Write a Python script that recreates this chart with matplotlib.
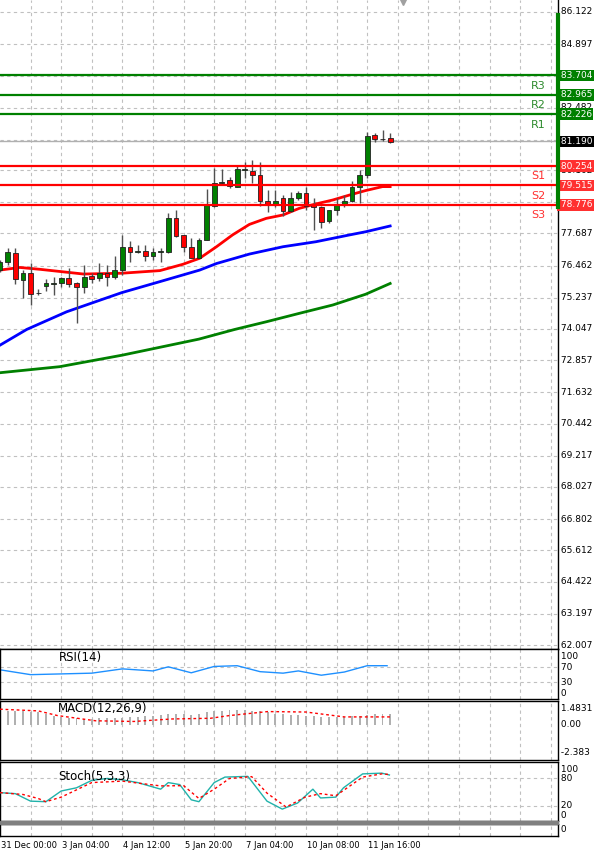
import matplotlib.pyplot as plt
import numpy as np

# candles (index = bar number, 4 bars per grid column)
opens  = [76.29, 76.61, 76.95, 75.91, 76.19, 75.40, 75.69, 75.77, 75.78, 75.97,
          75.81, 75.66, 76.08, 75.97, 76.19, 76.04, 76.29, 77.18, 76.97, 77.03,
          76.84, 76.98, 76.99, 78.29, 77.61, 77.18, 76.76, 77.44, 78.73, 79.59,
          79.72, 79.47, 80.12, 80.08, 79.90, 78.93, 78.77, 79.05, 78.54, 79.05,
          79.24, 78.77, 78.68, 78.16, 78.58, 78.77, 78.93, 79.44, 79.91, 81.44,
          81.27, 81.31]
highs  = [76.67, 77.12, 77.12, 76.29, 76.55, 75.56, 75.94, 76.04, 76.04, 76.36,
          75.84, 76.48, 76.17, 76.55, 76.48, 76.83, 77.63, 77.41, 77.24, 77.24,
          77.12, 77.12, 78.45, 78.58, 77.61, 77.50, 77.50, 79.37, 80.19, 80.13,
          79.85, 80.29, 80.42, 80.48, 80.39, 79.34, 79.34, 79.15, 79.28, 79.30,
          79.47, 79.02, 78.73, 78.58, 79.02, 79.15, 79.70, 80.10, 81.56, 81.50,
          81.63, 81.50]
lows   = [76.23, 76.48, 75.76, 75.21, 74.96, 75.34, 75.49, 75.34, 75.66, 75.66,
          74.26, 75.43, 75.78, 75.89, 75.68, 75.94, 76.10, 76.61, 76.93, 76.64,
          76.67, 76.61, 76.93, 77.56, 76.99, 76.74, 76.74, 77.44, 78.71, 79.53,
          79.40, 79.47, 79.78, 79.62, 78.73, 78.51, 78.71, 78.35, 78.51, 78.96,
          78.58, 77.82, 77.88, 78.07, 78.39, 78.71, 78.90, 78.83, 79.78, 81.18,
          81.22, 81.14]
closes = [76.61, 76.99, 75.94, 76.19, 75.37, 75.42, 75.81, 75.79, 75.97, 75.76,
          75.66, 76.04, 75.94, 76.19, 76.04, 76.29, 77.18, 76.99, 77.03, 76.84,
          76.97, 77.00, 78.29, 77.59, 77.18, 76.74, 77.44, 78.77, 79.59, 79.66,
          79.49, 80.14, 80.13, 79.90, 78.93, 78.77, 78.92, 78.54, 79.05, 79.24,
          78.73, 78.68, 78.13, 78.58, 78.77, 78.93, 79.44, 79.91, 81.40, 81.27,
          81.28, 81.18]

# moving averages (bar index, price)
ma_red_x = [0, 2.6, 5.2, 10.9, 15.9, 20.9, 23.9, 26.1, 28.3, 30.4, 32.6, 34.8, 37, 39.1, 41.3, 43.5, 45.7, 47.8, 50, 51]
ma_red_y = [76.29, 76.39, 76.32, 76.14, 76.17, 76.27, 76.51, 76.74, 77.18, 77.63, 78.03, 78.26, 78.39, 78.64, 78.81, 78.96, 79.15, 79.32, 79.47, 79.47]
ma_blue_x = [0, 3.5, 8.7, 15.9, 20.9, 26.1, 28.3, 32.6, 37, 41.3, 45.7, 47.8, 51]
ma_blue_y = [73.43, 74.03, 74.70, 75.43, 75.85, 76.29, 76.54, 76.90, 77.18, 77.37, 77.63, 77.75, 77.97]
ma_green_x = [0, 7.8, 16, 26, 30.7, 34.8, 39.1, 43.5, 47.8, 51]
ma_green_y = [72.38, 72.61, 73.05, 73.66, 74.03, 74.32, 74.64, 74.96, 75.37, 75.78]

res_names = ["R3", "R2", "R1"]
res_levels = [83.704, 82.965, 82.226]
sup_names = ["S1", "S2", "S3"]
sup_levels = [80.254, 79.515, 78.776]
last_price = 81.190

price_ticks = [86.122, 84.897, 83.672, 82.482, 81.257, 80.102, 78.877, 77.687, 76.462,
               75.237, 74.047, 72.857, 71.632, 70.442, 69.217, 68.027, 66.802,
               65.612, 64.422, 63.197, 62.007]
hidden_ticks = [83.672, 81.257, 78.877]

rsi_x = [0, 4, 8, 12, 16, 20, 22, 25, 28, 31, 34, 37, 39, 42, 45, 48, 50.6]
rsi_y = [63, 50, 52, 54, 65.5, 60, 71, 55, 72, 74, 58, 54, 60, 48.5, 57, 74, 74]

macd_hist = [1.2, 1.2, 1.2, 1.2, 1.1, 1.1, 1.0, 0.8, 0.7, 0.6, 0.6, 0.55, 0.55, 0.6,
             0.6, 0.6, 0.65, 0.7, 0.7, 0.75, 0.8, 0.85, 1.0, 1.0, 0.95, 0.9, 1.0,
             1.1, 1.2, 1.25, 1.3, 1.3, 1.3, 1.25, 1.2, 1.1, 1.0, 0.95, 0.9, 0.85,
             0.8, 0.75, 0.7, 0.7, 0.7, 0.7, 0.75, 0.8, 0.9, 1.0, 1.0, 1.0]
macd_sig_x = [0, 5, 7.5, 12.5, 17.5, 22.5, 27.5, 30, 35, 40, 45, 51]
macd_sig_y = [1.39, 1.24, 0.83, 0.37, 0.31, 0.53, 0.59, 0.83, 1.18, 1.14, 0.71, 0.71]

stoch_k_x = [0, 2, 4, 6, 8, 10, 12, 14, 16, 18, 21, 22, 23.5, 25, 26, 28, 29.4, 32.4,
             34.9, 36.9, 38.9, 40.9, 41.9, 43.9, 44.9, 47.4, 49.9, 50.9]
stoch_k_y = [49, 46.8, 30.4, 29.2, 52.6, 59.6, 75.9, 80, 77, 71, 56.6, 71, 66.6, 33.3,
             29.2, 71, 83, 84.6, 30.4, 13, 26.3, 56.6, 37.4, 39.2, 59.6, 90, 91.7, 87.6]
stoch_d_x = [0, 3, 5, 6, 8, 12, 16, 21, 24, 26, 28, 30, 32.9, 34.9, 37.4, 39.9, 41.9,
             43.9, 47.4, 49.9, 50.9]
stoch_d_y = [49, 45, 36.2, 29.2, 39.2, 71, 74.2, 63.7, 64.3, 36.2, 56.6, 80, 84, 48,
             17.6, 39.2, 46.8, 42.2, 83, 90, 88.7]

time_labels = ["31 Dec 00:00", "3 Jan 04:00", "4 Jan 12:00", "5 Jan 20:00",
               "7 Jan 04:00", "10 Jan 08:00", "11 Jan 16:00"]
time_label_bars = [0, 8, 16, 24, 32, 40, 48]

W, H = 600, 858
PX = 7.65          # pixels per bar
XMAX = 558 / PX
GREEN, RED = '#008000', '#ff0000'
GRIDC = '#c0c0c0'

fig = plt.figure(figsize=(6, 8.58), dpi=100)


def box(x0, y0, x1, y1):
    return [x0 / W, 1 - y1 / H, (x1 - x0) / W, (y1 - y0) / H]


def style(ax):
    ax.set_xlim(0, XMAX)
    ax.set_xticks([])
    ax.set_yticks([])
    for s in ax.spines.values():
        s.set_color('black')
        s.set_linewidth(1)
    for k in range(4, int(XMAX) + 1, 4):
        ax.axvline(k, color=GRIDC, lw=0.8, ls=(0, (3, 3)), zorder=0)


def ylabel(ax, v, txt, **kw):
    ax.text(1.0, v, ' ' + txt, transform=ax.get_yaxis_transform(), ha='left',
            va='center', fontsize=6.5, clip_on=False, **kw)


# ---- main price panel
ax = fig.add_axes(box(0, 0, 558, 649))
style(ax)
ax.spines['top'].set_visible(False)
ax.spines['left'].set_visible(False)
ax.set_ylim(61.855, 86.579)
for t in price_ticks:
    ax.axhline(t, color=GRIDC, lw=0.8, ls=(0, (3, 3)), zorder=0)
    if t not in hidden_ticks:
        ylabel(ax, t, '%.3f' % t)
ax.axhline(last_price, color='#b0b0b0', lw=1, zorder=1)

xs = np.arange(len(opens))
for i in xs:
    o, c = opens[i], closes[i]
    up = c >= o
    ax.vlines(i, lows[i], highs[i], color='#505050', lw=1, zorder=3)
    hgt = max(abs(c - o), 0.03)
    ax.bar(i, hgt, bottom=min(o, c), width=0.62, color=GREEN if up else RED,
           edgecolor='#202020', lw=0.6, zorder=4)

ax.plot(ma_green_x, ma_green_y, color=GREEN, lw=2, zorder=2)
ax.plot(ma_blue_x, ma_blue_y, color='#0000ff', lw=2, zorder=2)
ax.plot(ma_red_x, ma_red_y, color=RED, lw=2, zorder=2)

for name, lv in zip(res_names, res_levels):
    ax.axhline(lv, color=GREEN, lw=1.6, zorder=5)
    ax.text(538 / PX, lv - 0.2, name, color='#2e8b2e', fontsize=8, ha='center', va='top')
    ylabel(ax, lv, '%.3f' % lv, color='white',
           bbox=dict(boxstyle='square,pad=0.15', fc=GREEN, ec='none'))
for name, lv in zip(sup_names, sup_levels):
    ax.axhline(lv, color=RED, lw=1.6, zorder=5)
    ax.text(538 / PX, lv - 0.2, name, color='#ff3030', fontsize=8, ha='center', va='top')
    ylabel(ax, lv, '%.3f' % lv, color='white',
           bbox=dict(boxstyle='square,pad=0.15', fc='#ff3030', ec='none'))
ylabel(ax, last_price, '%.3f' % last_price, color='white',
       bbox=dict(boxstyle='square,pad=0.15', fc='black', ec='none'))
ax.plot([XMAX, XMAX], [78.7, 86.0], color=GREEN, lw=3, clip_on=False, zorder=6)
ax.plot([403 / PX], [86.5], marker='v', color='#a0a0a0', ms=5, clip_on=False)

# ---- RSI
ar = fig.add_axes(box(0, 649, 558, 699))
style(ar)
ar.set_ylim(-15.3, 118.8)
for v in [70, 30]:
    ar.axhline(v, color=GRIDC, lw=0.8, ls=(0, (3, 3)), zorder=0)
for v in [100, 70, 30, 0]:
    ylabel(ar, v, str(v))
ar.plot(rsi_x, rsi_y, color='#1e90ff', lw=1)
ar.text(59 / PX, 96, 'RSI(14)', fontsize=8.5, va='center')

# ---- MACD
am = fig.add_axes(box(0, 701, 558, 760))
style(am)
am.set_ylim(-3.08, 2.11)
am.bar(xs, macd_hist, width=0.25, color='#b0b0b0', zorder=2)
am.plot(macd_sig_x, macd_sig_y, color=RED, lw=1, ls=(0, (2, 2)), zorder=3)
for v, t in [(1.4831, '1.4831'), (0, '0.00'), (-2.383, '-2.383')]:
    ylabel(am, v, t)
am.text(58 / PX, 1.45, 'MACD(12,26,9)', fontsize=8.5, va='center')

# ---- Stochastic
ast = fig.add_axes(box(0, 762, 558, 821))
style(ast)
ast.set_ylim(-13, 116)
for v in [80, 20]:
    ast.axhline(v, color=GRIDC, lw=0.8, ls=(0, (3, 3)), zorder=0)
for v in [100, 80, 20, 0]:
    ylabel(ast, v, str(v))
ast.plot(stoch_k_x, stoch_k_y, color='#20b2aa', lw=1, zorder=3)
ast.plot(stoch_d_x, stoch_d_y, color=RED, lw=1, ls=(0, (2, 2)), zorder=3)
ast.text(58 / PX, 85, 'Stoch(5,3,3)', fontsize=8.5, va='center')

# separator + empty bottom panel
fig.add_artist(plt.Rectangle((0, 1 - 824 / H), 558 / W, 3 / H, color='#808080',
                             transform=fig.transFigure))
ae = fig.add_axes(box(0, 824, 558, 836))
style(ae)
ae.set_ylim(0, 1)
ylabel(ae, 0.5, '0')

for lab, b in zip(time_labels, time_label_bars):
    fig.text((b * PX + 1) / W, 1 - 845 / H, lab, fontsize=6, ha='left', va='center')

fig.savefig('out.png', dpi=100)
